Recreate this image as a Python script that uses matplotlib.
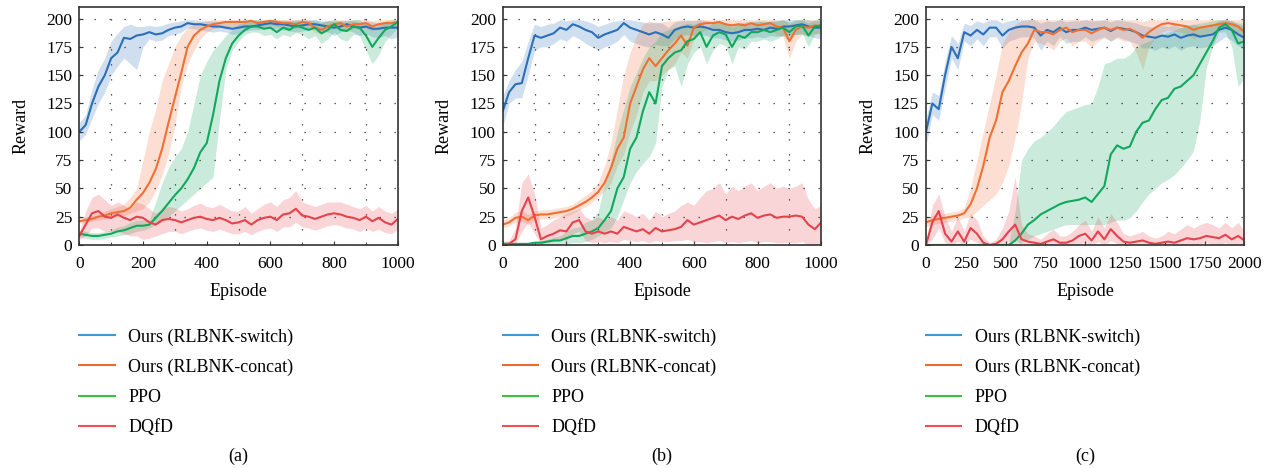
import numpy as np
import matplotlib
matplotlib.use("Agg")
import matplotlib.pyplot as plt
from matplotlib.lines import Line2D
from matplotlib.ticker import MultipleLocator

plt.rcParams['font.family'] = 'serif'
plt.rcParams['font.serif'] = ['Liberation Serif', 'DejaVu Serif']

# episodios (eje x)
ep_ab = list(range(0, 1001, 20))
ep_c = list(range(0, 2001, 40))

series = ['Ours (RLBNK-switch)', 'Ours (RLBNK-concat)', 'PPO', 'DQfD']
line_colors = ['#2a6fb8', '#f26f32', '#10a85c', '#e5434b']
legend_colors = ['#3d9ad1', '#f06a2a', '#3cc040', '#f05050']
captions = ['(a)', '(b)', '(c)']

# ---- panel (a) ----
a_blue = [100,106,125,140,150,165,170,183,182,185,186,188,186,187,190,192,193,196,195,195,194,193,193,192,191,192,193,193,194,195,196,195,195,194,193,194,195,195,194,193,192,193,195,193,192,193,191,191,192,192,192]
a_blue_lo = [92,98,112,125,135,150,158,165,160,155,175,182,180,181,185,186,188,192,191,190,189,188,189,188,186,187,189,190,190,191,192,191,190,189,188,189,190,191,189,188,185,188,190,188,185,187,184,183,185,182,184]
a_blue_hi = [108,115,138,155,165,180,187,193,195,193,193,194,193,194,196,197,198,199,199,198,198,198,197,197,196,197,198,198,198,199,199,199,198,198,198,198,199,199,198,198,197,198,199,198,197,198,197,196,197,196,197]

a_orange = [21,22,23,25,26,28,29,30,33,40,46,55,67,85,108,130,152,175,185,190,193,195,196,197,197,197,197,198,196,197,198,197,196,196,195,197,196,192,190,193,195,196,193,195,195,196,193,195,196,196,197]
a_orange_lo = [19,20,21,22,23,24,25,26,28,30,32,38,48,62,80,105,140,160,172,182,188,191,192,193,193,193,193,194,192,193,194,193,192,192,191,193,192,188,186,189,191,192,189,191,191,192,189,191,192,192,193]
a_orange_hi = [24,25,26,28,30,32,34,36,42,50,75,100,120,145,160,175,185,192,195,197,198,199,199,199,199,199,199,199,199,199,199,199,199,199,199,199,199,197,196,198,199,199,198,199,199,199,198,199,199,199,199]

a_green = [10,9,8,8,9,10,12,13,15,17,17,18,24,30,37,44,50,58,68,82,90,115,145,165,178,185,190,193,193,191,192,188,192,190,194,192,190,192,187,190,195,190,189,193,192,185,175,183,190,193,197]
a_green_lo = [7,6,5,5,6,7,8,9,10,12,13,15,18,20,25,30,35,40,45,50,55,60,110,155,172,180,186,188,188,185,186,182,186,184,188,186,182,185,178,182,188,182,180,186,185,172,160,168,180,186,192]
a_green_hi = [13,12,11,11,12,13,16,17,20,22,22,22,38,55,68,78,85,100,125,150,162,172,178,185,190,195,197,199,199,198,199,197,199,198,199,199,198,199,197,198,199,198,197,199,199,195,190,194,198,199,199]

a_red = [8,18,28,30,25,24,27,24,22,25,24,20,18,22,23,22,20,22,24,25,23,22,24,22,19,20,22,18,22,24,25,22,27,28,32,26,25,23,25,27,28,27,25,24,22,25,21,24,20,18,23]
a_red_lo = [5,8,15,15,12,12,12,10,8,8,5,6,8,10,12,12,10,12,14,15,13,12,14,12,10,10,12,9,12,14,15,12,16,16,20,16,15,13,15,17,18,17,15,14,12,15,12,14,11,10,14]
a_red_hi = [12,30,42,45,40,35,38,35,32,38,36,32,28,32,34,33,30,32,35,37,34,33,36,33,30,30,34,28,32,36,38,34,40,42,48,38,36,34,36,38,38,38,36,34,32,35,30,34,30,28,32]

# ---- panel (b) ----
b_blue = [118,135,142,143,165,185,183,185,187,192,190,195,193,190,188,183,186,188,190,196,192,190,188,186,188,186,183,190,192,193,192,193,192,190,190,188,187,188,190,190,191,190,192,191,193,193,194,195,193,192,192]
b_blue_lo = [105,125,130,130,150,172,175,175,178,182,180,185,182,178,175,172,175,177,180,186,180,178,176,175,177,176,176,182,185,186,185,186,185,183,183,181,180,181,183,183,184,183,185,184,185,186,186,186,185,183,182]
b_blue_hi = [132,145,155,162,180,195,193,195,196,199,198,199,199,198,196,193,195,197,198,199,199,198,197,196,197,196,192,197,198,199,198,199,198,197,197,196,195,196,197,197,198,197,198,198,199,199,199,199,199,198,198]

b_orange = [18,20,24,25,22,26,27,27,28,29,30,32,35,38,42,47,55,68,85,95,125,140,155,165,158,165,172,178,185,176,192,195,196,196,197,195,194,195,194,196,194,195,196,193,192,180,190,193,192,194,193]
b_orange_lo = [15,17,20,21,18,22,23,23,24,25,26,28,31,34,38,42,48,55,70,80,100,115,135,145,145,150,155,160,170,165,182,188,190,190,191,189,188,189,188,190,188,189,190,186,184,165,180,186,185,187,186]
b_orange_hi = [22,24,29,30,27,30,31,31,32,33,34,36,40,44,48,55,70,90,120,150,170,185,195,198,196,197,198,198,199,198,199,199,199,199,199,199,199,199,199,199,199,199,199,199,199,195,198,199,199,199,199]

b_green = [1,1,1,1,1,2,2,3,4,4,6,8,8,10,12,15,22,30,50,60,85,95,118,135,125,158,165,170,172,180,182,188,175,185,188,186,175,185,183,188,188,190,188,190,192,188,193,194,185,193,194]
b_green_lo = [0,0,0,0,0,0,0,0,0,0,1,2,2,3,5,8,12,15,25,40,55,65,72,78,90,140,155,158,140,160,170,175,160,172,178,176,160,175,173,180,180,182,180,182,185,180,186,187,175,186,188]
b_green_hi = [2,2,2,2,2,3,4,5,7,8,12,15,16,20,22,30,55,75,100,120,140,152,165,175,180,188,190,192,194,196,195,197,192,196,197,196,192,196,195,197,197,198,197,198,199,197,199,199,196,199,199]

b_red = [1,1,5,30,42,25,5,8,10,13,12,20,22,12,10,12,10,12,10,16,14,12,14,10,15,12,13,14,16,22,18,20,22,24,26,22,25,23,26,28,24,26,27,24,25,25,26,25,18,14,20]
b_red_lo = [0,0,1,12,20,10,1,2,3,5,4,10,12,4,2,3,2,3,2,5,4,3,4,2,4,3,3,4,4,5,3,3,2,3,4,2,3,2,3,4,2,3,3,2,2,2,2,3,0,0,2]
b_red_hi = [3,4,15,55,63,45,15,18,22,25,28,30,32,25,22,25,22,25,22,30,28,25,28,22,30,25,28,30,35,38,35,42,48,50,55,45,52,48,52,55,48,52,55,50,52,50,52,55,40,32,35]

# ---- panel (c) ----
c_blue = [100,125,120,150,175,165,188,185,190,186,192,192,185,190,192,193,193,192,185,190,188,192,188,190,190,192,190,191,192,189,192,191,190,188,185,184,183,185,184,186,183,185,186,184,185,186,190,192,190,186,183]
c_blue_lo = [88,115,110,138,165,155,180,176,182,176,184,184,174,180,182,184,184,183,172,180,176,184,178,180,180,184,180,182,184,180,184,182,180,178,174,174,172,175,173,176,172,175,176,174,175,176,180,184,181,176,173]
c_blue_hi = [112,135,132,162,185,178,196,194,198,196,199,199,196,198,199,199,199,199,196,198,197,199,197,198,198,199,198,198,199,197,199,198,197,196,194,193,192,194,193,195,192,194,195,193,194,195,198,199,198,195,193]

c_orange = [20,22,23,24,25,26,28,36,50,70,95,110,135,145,158,170,178,190,188,188,186,190,192,188,190,190,187,190,192,190,192,190,191,188,183,188,192,195,196,195,194,193,190,192,193,194,195,196,195,193,188]
c_orange_lo = [16,18,19,20,21,22,24,25,30,35,40,45,55,70,95,125,165,180,178,176,172,180,183,176,180,180,175,180,183,180,183,180,180,170,155,175,183,188,190,189,188,186,182,185,187,188,190,191,190,187,180]
c_orange_hi = [24,26,27,28,29,30,33,50,75,100,125,150,178,188,195,198,199,199,199,199,199,199,199,199,199,199,199,199,199,199,199,199,199,199,197,199,199,199,199,199,199,199,199,199,199,199,199,199,199,199,199]

c_green = [0,0,0,0,0,0,0,0,0,0,0,0,0,0,4,10,18,22,27,30,33,36,38,39,40,42,38,45,52,80,88,85,87,100,108,110,120,128,130,138,140,145,150,160,170,180,192,195,190,178,180]
c_green_lo = [0,0,0,0,0,0,0,0,0,0,0,0,0,0,0,2,5,8,10,12,14,16,18,18,18,18,18,18,18,20,22,22,24,30,38,45,50,55,58,62,68,75,83,110,156,175,188,188,175,140,148]
c_green_hi = [1,1,1,1,1,1,1,1,1,1,1,1,1,2,30,75,85,92,95,100,105,112,118,120,122,124,125,140,160,162,165,165,168,175,178,180,183,186,188,190,192,194,195,196,197,198,199,199,198,196,196]

c_red = [0,20,30,10,3,12,3,15,10,2,0,1,5,12,18,5,3,2,1,3,5,2,2,4,8,10,4,12,5,14,8,3,2,3,4,2,1,2,3,2,4,6,5,6,8,7,6,9,5,8,4]
c_red_lo = [0,5,15,2,0,3,0,5,2,0,0,0,0,3,5,0,0,0,0,0,0,0,0,0,1,2,0,3,0,4,1,0,0,0,0,0,0,0,0,0,0,1,0,1,2,1,0,2,0,1,0]
c_red_hi = [2,35,45,25,12,25,12,28,22,8,2,5,15,30,60,18,10,8,5,10,14,8,8,12,18,22,12,25,15,28,20,10,8,10,12,8,6,8,12,10,14,18,15,18,20,18,15,20,15,20,12]

paneles = [
    (ep_ab, [(a_blue, a_blue_lo, a_blue_hi), (a_orange, a_orange_lo, a_orange_hi),
             (a_green, a_green_lo, a_green_hi), (a_red, a_red_lo, a_red_hi)], 1000, 200, 100),
    (ep_ab, [(b_blue, b_blue_lo, b_blue_hi), (b_orange, b_orange_lo, b_orange_hi),
             (b_green, b_green_lo, b_green_hi), (b_red, b_red_lo, b_red_hi)], 1000, 200, 100),
    (ep_c, [(c_blue, c_blue_lo, c_blue_hi), (c_orange, c_orange_lo, c_orange_hi),
            (c_green, c_green_lo, c_green_hi), (c_red, c_red_lo, c_red_hi)], 2000, 250, 250),
]

fig = plt.figure(figsize=(12.73, 4.68), dpi=100)
lefts = [0.0623, 0.3949, 0.7274]

for i, (x, datos, xmax, paso, paso_grid) in enumerate(paneles):
    ax = fig.add_axes([lefts[i], 0.4765, 0.2502, 0.508])
    x = np.array(x)
    for (media, lo, hi), col in zip(datos, line_colors):
        ax.fill_between(x, lo, hi, color=col, alpha=0.22, linewidth=0)
    for (media, lo, hi), col in zip(datos, line_colors):
        ax.plot(x, media, color=col, linewidth=1.5)

    ax.set_xlim(0, xmax)
    ax.set_ylim(0, 210)
    ax.xaxis.set_major_locator(MultipleLocator(paso))
    ax.set_yticks(range(0, 201, 25))
    ax.set_xticks(range(0, xmax + 1, paso_grid), minor=True)
    ax.grid(True, which='minor', axis='x', color='#333333', linestyle=(0, (1, 11)), linewidth=0.9)
    ax.grid(True, which='major', axis='y', color='#333333', linestyle=(0, (1, 11)), linewidth=0.9)
    ax.tick_params(axis='both', which='major', labelsize=12.5, direction='in', length=3, color='#333333')
    ax.tick_params(axis='x', which='major', pad=8)
    ax.tick_params(axis='y', which='major', pad=5)
    ax.tick_params(axis='x', which='minor', direction='in', length=2, color='#333333')
    for s in ax.spines.values():
        s.set_color('#333333')
        s.set_linewidth(1.2)
    ax.set_xlabel('Episode', fontsize=13, labelpad=8)
    ax.set_ylabel('Reward', fontsize=13, labelpad=12)

    handles = [Line2D([0], [0], color=c, linewidth=1.5) for c in legend_colors]
    ax.legend(handles, series, loc='upper left', bbox_to_anchor=(0, -0.35), frameon=False,
              fontsize=13, handlelength=1.95, handletextpad=0.75, labelspacing=0.72,
              borderpad=0, borderaxespad=0)
    ax.text(0.5, -0.888, captions[i], transform=ax.transAxes, ha='center', va='center', fontsize=13)

fig.savefig('out.png', dpi=100)
